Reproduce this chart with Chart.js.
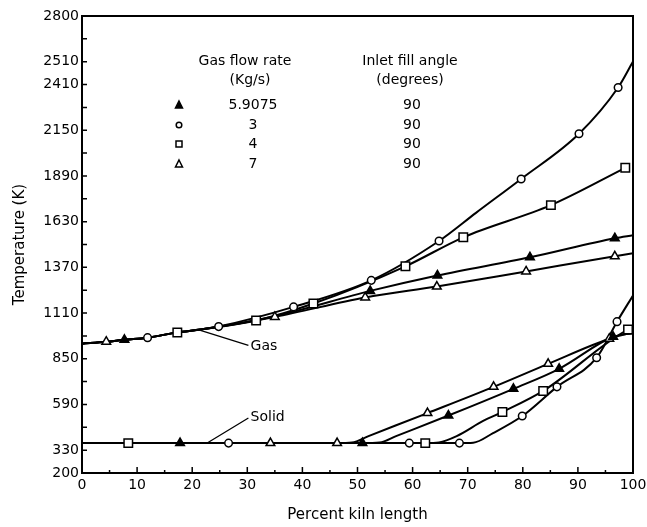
<!DOCTYPE html>
<html>
<head>
<meta charset="utf-8">
<script src="https://cdn.jsdelivr.net/npm/chart.js@4.4.0/dist/chart.umd.min.js"></script>
<style>
  html, body { margin: 0; padding: 0; background: #fff; }
</style>
</head>
<body>
<canvas id="kiln" width="647" height="527"></canvas>
<script>
// kiln temperature profiles

// y tick labels (the "2510" label sits at the 2540 position in the original)
const yTickValues = [200, 330, 590, 850, 1110, 1370, 1630, 1890, 2150, 2410, 2540, 2800];
const yTickText = ['200', '330', '590', '850', '1110', '1370', '1630', '1890', '2150', '2410', '2510', '2800'];

// table rows: gas flow rate (Kg/s), inlet fill angle (degrees)
const flowRates = ['5.9075', '3', '4', '7'];
const fillAngles = ['90', '90', '90', '90'];

// gas temperature curves [percent, K]
const gasFilledTri = [[0,936],[4.4,947],[7.7,958],[11.9,970],[17.3,1000],[21.5,1016],[35,1092],[52.3,1236],[64.5,1324],[81.3,1427],[96.7,1536],[100,1553]];
const gasCircle = [[0,936],[4.4,947],[7.7,958],[11.9,970],[17.3,1000],[21.5,1016],[24.8,1033],[38.4,1145],[52.5,1296],[64.8,1520],[71.5,1680],[79.7,1873],[90.2,2130],[97.3,2393],[100,2541]];
const gasSquare = [[0,936],[4.4,947],[7.7,958],[11.9,970],[17.3,1000],[21.5,1016],[31.6,1067],[42,1164],[58.7,1376],[69.2,1541],[85.1,1724],[98.6,1936]];
const gasOpenTri = [[0,936],[4.4,947],[7.7,958],[11.9,970],[17.3,1000],[21.5,1016],[35,1088],[51.4,1199],[64.4,1261],[80.6,1347],[96.7,1433],[100,1450]];

const gasFilledTriMarks = [[7.7,958],[52.3,1236],[64.5,1324],[81.3,1427],[96.7,1536]];
const gasCircleMarks = [[11.9,970],[24.8,1033],[38.4,1145],[52.5,1296],[64.8,1520],[79.7,1873],[90.2,2130],[97.3,2393]];
const gasSquareMarks = [[17.3,1000],[31.6,1067],[42,1164],[58.7,1376],[69.2,1541],[85.1,1724],[98.6,1936]];
const gasOpenTriMarks = [[4.4,947],[35,1088],[51.4,1199],[64.4,1261],[80.6,1347],[96.7,1433]];

// solid temperature curves [percent, K]
const solidFilledTri = [[0,370],[17.8,370],[50.9,370],[54,373],[57,410],[66.5,527],[78.3,679],[86.6,793],[96.4,975],[100,995]];
const solidCircle = [[0,370],[26.6,370],[59.4,370],[68.5,370],[71,372],[74.6,427],[79.9,524],[86.2,690],[93.4,856],[97.1,1061],[100,1210]];
const solidSquare = [[0,370],[8.4,370],[62.3,370],[64.8,374],[68,410],[72.8,496],[76.3,547],[83.7,667],[99.1,1016],[100,1025]];
const solidOpenTri = [[0,370],[34.2,370],[46.3,370],[49,373],[52,410],[62.7,541],[74.7,690],[84.6,821],[95.7,964],[100,1000]];

const solidFilledTriMarks = [[17.8,370],[50.9,370],[66.5,527],[78.3,679],[86.6,793],[96.4,975]];
const solidCircleMarks = [[26.6,370],[59.4,370],[68.5,370],[79.9,524],[86.2,690],[93.4,856],[97.1,1061]];
const solidSquareMarks = [[8.4,370],[62.3,370],[76.3,547],[83.7,667],[99.1,1016]];
const solidOpenTriMarks = [[34.2,370],[46.3,370],[62.7,541],[74.7,690],[84.6,821],[95.7,964]];

const FONT = 'DejaVu Sans';

function pts(arr) { return arr.map(function (p) { return { x: p[0], y: p[1] }; }); }

function curve(arr) {
    return {
        data: pts(arr),
        showLine: true,
        borderColor: '#000',
        borderWidth: 2,
        pointRadius: 0,
        cubicInterpolationMode: 'monotone',
        order: 2
    };
}

function marks(arr, style, filled) {
    var r = style === 'rect' ? 6 : (style === 'circle' ? 3.8 : 5);
    return {
        data: pts(arr),
        showLine: false,
        pointStyle: style,
        pointRadius: r,
        pointBorderWidth: 1.5,
        pointBorderColor: '#000',
        pointBackgroundColor: filled ? '#000' : '#fff',
        order: 1
    };
}

// frame, inward ticks, Gas/Solid labels and the table
const decorations = {
    id: 'decorations',
    afterDatasetsDraw: function (chart) {
        const ctx = chart.ctx;
        const a = chart.chartArea;
        const xs = chart.scales.x, ys = chart.scales.y;
        ctx.save();
        ctx.strokeStyle = '#000';
        ctx.fillStyle = '#000';
        ctx.lineWidth = 2;
        ctx.strokeRect(a.left, a.top, a.right - a.left, a.bottom - a.top);

        ctx.lineWidth = 1.5;
        ctx.beginPath();
        ys.ticks.forEach(function (t) {
            var y = ys.getPixelForValue(t.value);
            ctx.moveTo(a.left, y); ctx.lineTo(a.left + 5, y);
        });
        for (var v = 0; v <= 100; v += 5) {
            var x = xs.getPixelForValue(v);
            var len = v % 10 === 0 ? 6 : 3;
            ctx.moveTo(x, a.bottom); ctx.lineTo(x, a.bottom - len);
        }
        ctx.stroke();

        // leader lines
        ctx.lineWidth = 1.3;
        ctx.beginPath();
        ctx.moveTo(xs.getPixelForValue(21.5), ys.getPixelForValue(1012));
        ctx.lineTo(xs.getPixelForValue(30.2), ys.getPixelForValue(926));
        ctx.moveTo(xs.getPixelForValue(22.8), ys.getPixelForValue(372));
        ctx.lineTo(xs.getPixelForValue(30.2), ys.getPixelForValue(513));
        ctx.stroke();

        ctx.font = '14px ' + FONT;
        ctx.textAlign = 'left';
        ctx.textBaseline = 'middle';
        ctx.fillText('Gas', xs.getPixelForValue(30.6), ys.getPixelForValue(922));
        ctx.fillText('Solid', xs.getPixelForValue(30.6), ys.getPixelForValue(515));

        // table
        ctx.textAlign = 'center';
        ctx.font = '14px ' + FONT;
        ctx.fillText('Gas flow rate', 245, 61);
        ctx.fillText('(Kg/s)', 250, 80);
        ctx.fillText('Inlet fill angle', 410, 61);
        ctx.fillText('(degrees)', 410, 80);
        var rowY = [105, 125, 144, 164];
        var styles = [['triangle', true], ['circle', false], ['rect', false], ['triangle', false]];
        for (var i = 0; i < flowRates.length; i++) {
            ctx.fillText(flowRates[i], 253, rowY[i]);
            ctx.fillText(fillAngles[i], 412, rowY[i]);
            drawSym(ctx, styles[i][0], styles[i][1], 179, rowY[i]);
        }
        ctx.restore();
    }
};

function drawSym(ctx, style, filled, x, y) {
    ctx.save();
    ctx.lineWidth = 1.5;
    ctx.beginPath();
    if (style === 'circle') {
        ctx.arc(x, y, 2.8, 0, Math.PI * 2);
    } else if (style === 'rect') {
        ctx.rect(x - 3, y - 3, 6, 6);
    } else {
        ctx.moveTo(x, y - 4); ctx.lineTo(x + 3.5, y + 3); ctx.lineTo(x - 3.5, y + 3); ctx.closePath();
    }
    ctx.fillStyle = filled ? '#000' : '#fff';
    ctx.fill();
    ctx.stroke();
    ctx.restore();
}

const ctx = document.getElementById('kiln').getContext('2d');
const kilnChart = new Chart(ctx, {
    type: 'scatter',
    data: {
        datasets: [
            marks(gasFilledTriMarks, 'triangle', true),
            marks(gasCircleMarks, 'circle', false),
            marks(gasSquareMarks, 'rect', false),
            marks(gasOpenTriMarks, 'triangle', false),
            marks(solidFilledTriMarks, 'triangle', true),
            marks(solidCircleMarks, 'circle', false),
            marks(solidSquareMarks, 'rect', false),
            marks(solidOpenTriMarks, 'triangle', false),
            curve(gasFilledTri),
            curve(gasCircle),
            curve(gasSquare),
            curve(gasOpenTri),
            curve(solidFilledTri),
            curve(solidCircle),
            curve(solidSquare),
            curve(solidOpenTri)
        ]
    },
    options: {
        responsive: false,
        animation: false,
        layout: { padding: { left: 0, top: 16, right: 14, bottom: 0 } },
        plugins: { legend: { display: false }, tooltip: { enabled: false } },
        scales: {
            x: {
                type: 'linear',
                min: 0, max: 100,
                grid: { display: false, drawTicks: false },
                border: { display: false },
                ticks: { stepSize: 10, padding: 4, color: '#000', font: { family: FONT, size: 14 } },
                title: { display: true, text: 'Percent kiln length', color: '#000', font: { family: FONT, size: 15 }, padding: { top: 0, bottom: 3 } },
                afterFit: function (s) { s.height = 54; s.paddingRight = 0; }
            },
            y: {
                type: 'linear',
                min: 200, max: 2800,
                grid: { display: false, drawTicks: false },
                border: { display: false },
                ticks: {
                    stepSize: 130, autoSkip: false, padding: 3, color: '#000',
                    font: { family: FONT, size: 14 },
                    callback: function (v) {
                        var i = yTickValues.indexOf(v);
                        return i >= 0 ? yTickText[i] : '';
                    }
                },
                title: { display: true, text: 'Temperature (K)', color: '#000', font: { family: FONT, size: 15 }, padding: { top: 11, bottom: 0 } },
                afterFit: function (s) { s.width = 82; s.paddingTop = 0; }
            }
        }
    },
    plugins: [decorations]
});
</script>
</body>
</html>
